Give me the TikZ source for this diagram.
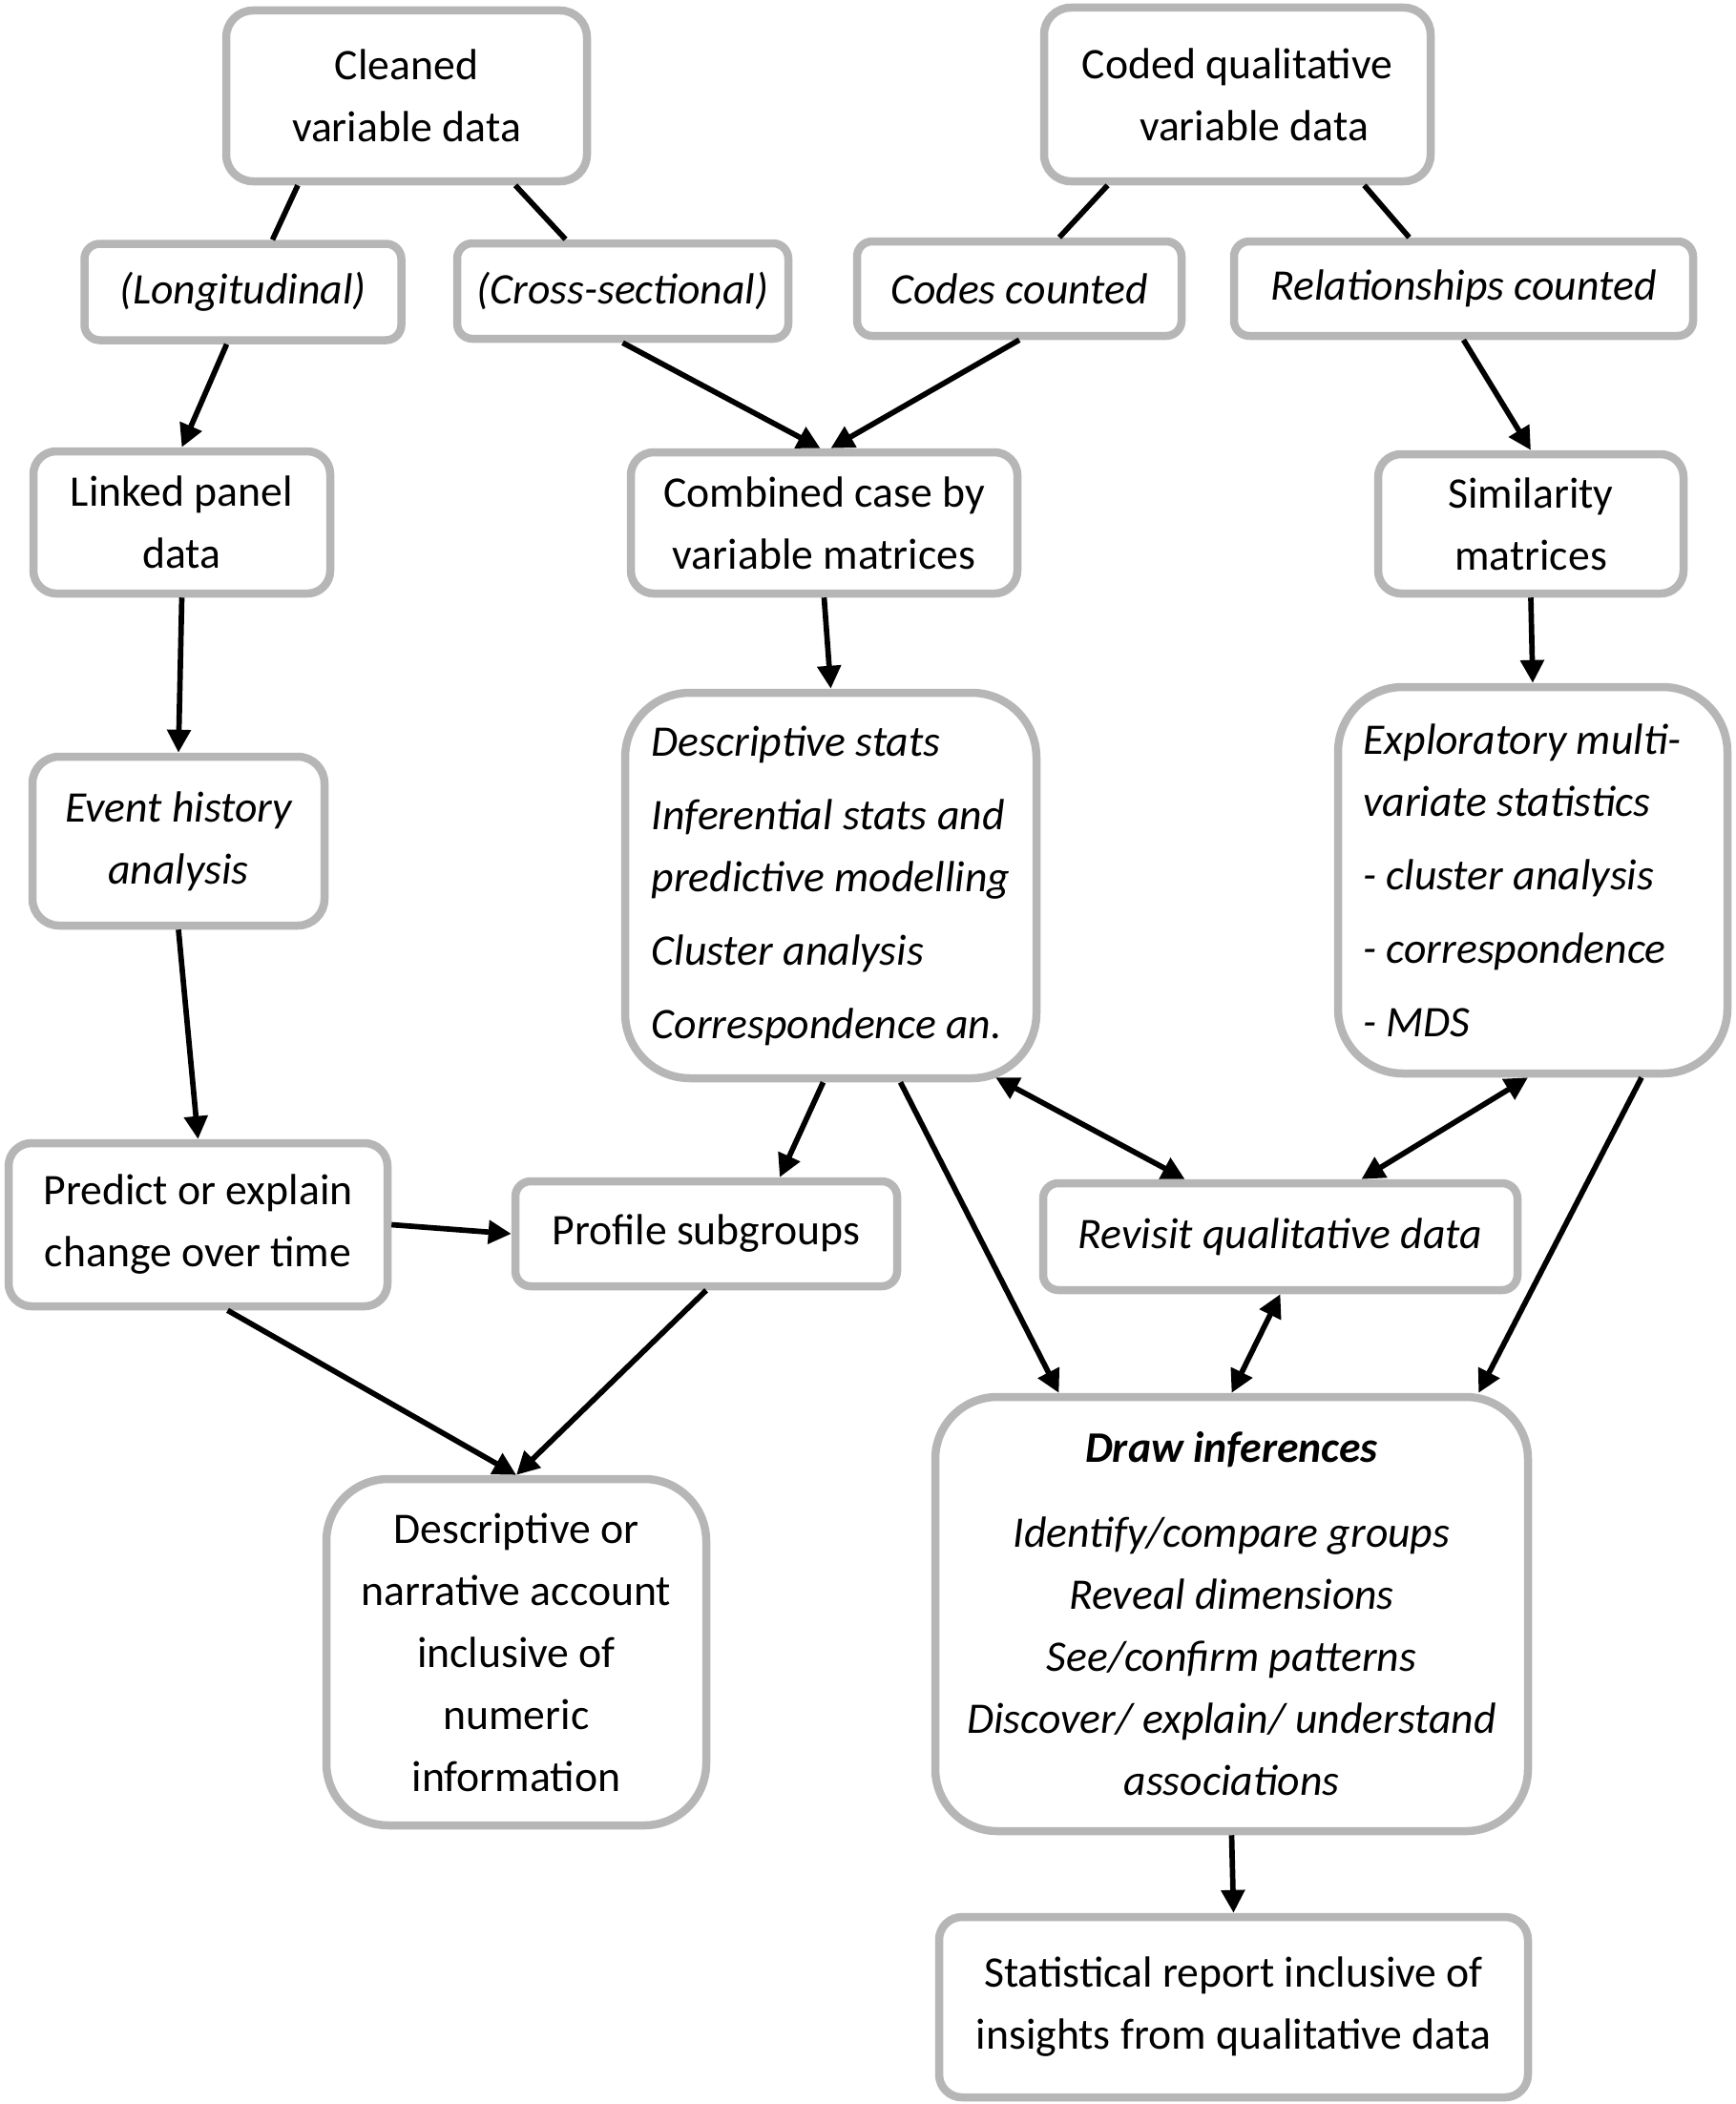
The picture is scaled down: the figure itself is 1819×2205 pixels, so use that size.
\documentclass[tikz,border=0pt]{standalone}
\usepackage{fontspec}
\setmainfont{Carlito}
\usepackage{xcolor}
\usetikzlibrary{arrows.meta}

\definecolor{boxgray}{RGB}{182,182,182}
\newcommand{\boxfont}{\fontsize{45.7}{65}\selectfont}

\begin{document}
\begin{tikzpicture}[x=1pt,y=-1pt,
  box/.style={draw=boxgray, line width=8.5pt, rounded corners=#1, fill=white,
              inner sep=0pt, align=center, font=\boxfont},
  box/.default=16pt,
  link/.style={line width=5.7pt},
  arr/.style={link, -{Triangle[length=24pt,width=24pt]}},
  biarr/.style={link, {Triangle[length=24pt,width=24pt]}-{Triangle[length=24pt,width=24pt]}}]

  \useasboundingbox[fill=white] (0,0) rectangle (1819,2205);

  % Source data
  \node[box=28pt, minimum width=378pt, minimum height=179pt] (clean) at (426,100.5)
    {Cleaned\\variable data};
  \node[box=28pt, minimum width=405pt, minimum height=182pt] (coded) at (1296.5,99)
    {Coded qualitative\\\hspace*{35pt}variable data};

  % Routes
  \node[box, minimum width=332pt, minimum height=101pt, font=\boxfont\itshape] (longi) at (254.5,306)
    {(Longitudinal)};
  \node[box, minimum width=347pt, minimum height=100pt, font=\boxfont\itshape] (cross) at (652.5,305)
    {(Cross-sectional)};
  \node[box, minimum width=340pt, minimum height=99pt, font=\boxfont\itshape] (codes) at (1068,302.5)
    {Codes counted};
  \node[box, minimum width=481pt, minimum height=99pt, font=\boxfont\itshape] (rels) at (1533.5,302.5)
    {Relationships counted};

  % Matrices
  \node[box=24pt, minimum width=311pt, minimum height=149pt] (linked) at (190.5,547.5)
    {Linked panel\\data};
  \node[box=24pt, minimum width=405pt, minimum height=148pt] (combined) at (863.5,548)
    {Combined case by\\variable matrices};
  \node[box=24pt, minimum width=320pt, minimum height=146pt] (simil) at (1604,549)
    {Similarity\\matrices};

  % Analyses
  \node[box=28pt, minimum width=306pt, minimum height=177pt, font=\boxfont\itshape] (event) at (187,881.5)
    {Event history\\analysis};
  \node[box=68pt, minimum width=431pt, minimum height=404pt, font=\boxfont\itshape, align=left] (descstats) at (870.5,928)
    {Descriptive stats\\[12pt]Inferential stats and\\predictive modelling\\[12pt]Cluster analysis\\[12pt]Correspondence an.};
  \node[box=68pt, minimum width=408pt, minimum height=405pt, font=\boxfont\itshape, align=left] (explor) at (1606,922.5)
    {Exploratory multi-\hspace*{22pt}\\variate statistics\\[12pt]- cluster analysis\\[12pt]- correspondence\\[12pt]- MDS};

  % Follow-up
  \node[box=24pt, minimum width=397pt, minimum height=171pt] (predict) at (207.5,1283.5)
    {Predict or explain\\change over time};
  \node[box, minimum width=400pt, minimum height=110pt] (profile) at (740,1293)
    {Profile subgroups};
  \node[box, minimum width=497pt, minimum height=112pt, font=\boxfont\itshape] (revisit) at (1341.5,1296)
    {Revisit qualitative data};

  % Outcomes
  \node[box=65pt, minimum width=398pt, minimum height=363pt] (account) at (541,1731.5)
    {Descriptive or\\narrative account\\inclusive of\\numeric\\information};
  \node[box=65pt, minimum width=621pt, minimum height=455pt, font=\boxfont\itshape] (infer) at (1290.5,1691.5)
    {\bfseries Draw inferences\\[24pt]Identify/compare groups\\Reveal dimensions\\See/confirm patterns\\Discover/ explain/ understand\\associations};
  \node[box=24pt, minimum width=617pt, minimum height=189pt] (report) at (1292.5,2103.5)
    {Statistical report inclusive of\\insights from qualitative data};

  % Plain links
  \draw[link] ([xshift=-114pt]clean.south) -- ([xshift=31pt]longi.north);
  \draw[link] ([xshift=114pt]clean.south) -- ([xshift=-60pt]cross.north);
  \draw[link] ([xshift=-136pt]coded.south) -- ([xshift=42pt]codes.north);
  \draw[link] ([xshift=133pt]coded.south) -- ([xshift=-57pt]rels.north);

  % Arrows
  \draw[arr] ([xshift=-17pt]longi.south) -- (linked.north);
  \draw[arr] (cross.south) -- ([xshift=-4pt]combined.north);
  \draw[arr] (codes.south) -- ([xshift=7pt]combined.north);
  \draw[arr] (rels.south) -- (simil.north);
  \draw[arr] (linked.south) -- (event.north);
  \draw[arr] (combined.south) -- (descstats.north);
  \draw[arr] (simil.south) -- (explor.north);
  \draw[arr] (event.south) -- (predict.north);
  \draw[arr] ([xshift=-8pt]descstats.south) -- ([xshift=77pt]profile.north);
  \draw[arr] ([xshift=73pt]descstats.south) -- ([xshift=-181pt]infer.north);
  \draw[arr] ([xshift=114pt]explor.south) -- ([xshift=-56pt]infer.north east);
  \draw[arr] (predict.east) -- (profile.west);
  \draw[arr] ([xshift=31pt]predict.south) -- (account.north);
  \draw[arr] (profile.south) -- (account.north);
  \draw[arr] (infer.south) -- (report.north);

  % Two-way arrows
  \draw[biarr] ([xshift=-47pt,yshift=5pt]descstats.south east) -- ([xshift=-100pt]revisit.north);
  \draw[biarr] ([xshift=-5pt]explor.south) -- ([xshift=85pt]revisit.north);
  \draw[biarr] (revisit.south) -- (infer.north);
\end{tikzpicture}
\end{document}
